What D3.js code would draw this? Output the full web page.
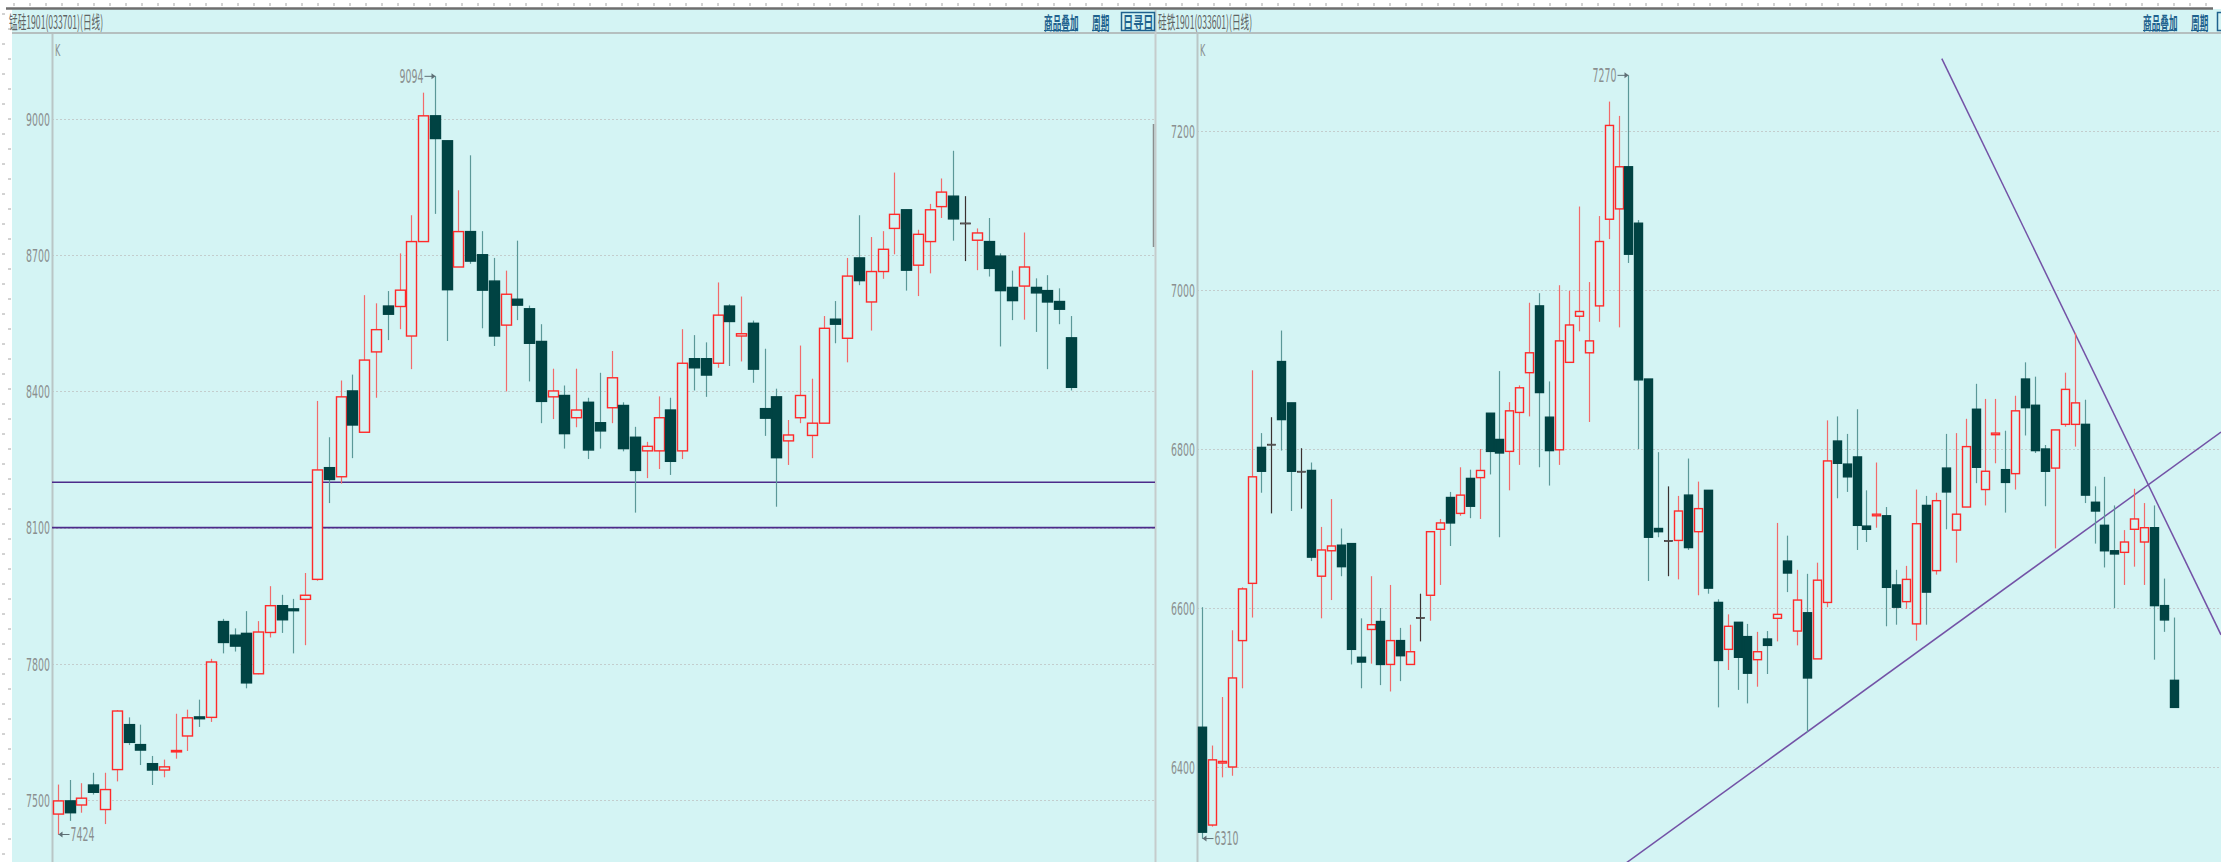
<!DOCTYPE html>
<html>
<head>
<meta charset="utf-8">
<script src="https://cdn.jsdelivr.net/npm/d3@7"></script>
<style>
  body { margin: 0; background: #ffffff; }
  svg { display: block; }
  .tick-label { font-family: "Liberation Sans Narrow", "DejaVu Sans Condensed", sans-serif; fill: #8a8f8f; }
  .hdr { font-family: "Noto Sans CJK SC", sans-serif; }
</style>
</head>
<body>
<div id="chart"></div>
<script>
// ---- data: left panel (锰硅1901), daily OHLC ----
var leftOpen  = [7469,7498,7489,7533,7479,7567,7666,7622,7580,7566,7606,7641,7683,7682,7893,7863,7867,7778,7869,7928,7921,7942,7986,8232,8212,8401,8310,8487,8588,8587,8522,8730,9007,8952,8674,8752,8701,8643,8546,8603,8582,8510,8388,8391,8342,8376,8331,8364,8369,8299,8269,8269,8359,8269,8472,8472,8462,8588,8522,8550,8362,8388,8291,8342,8303,8330,8559,8517,8694,8597,8664,8759,8800,8678,8730,8807,8830,8771,8733,8730,8698,8629,8632,8629,8622,8598,8518];
var leftHigh  = [7534,7544,7537,7560,7560,7698,7682,7666,7597,7589,7690,7699,7721,7811,7899,7878,7916,7894,7971,7952,7943,8000,8379,8299,8424,8437,8612,8594,8621,8704,8788,9058,9094,8952,8843,8920,8753,8694,8666,8732,8589,8548,8450,8413,8450,8386,8441,8489,8376,8322,8289,8389,8386,8537,8524,8508,8640,8592,8609,8556,8494,8406,8337,8501,8428,8566,8599,8694,8788,8740,8753,8882,8800,8756,8813,8869,8930,8830,8759,8782,8704,8666,8750,8649,8656,8627,8566];
var leftLow   = [7424,7454,7472,7512,7447,7541,7621,7577,7533,7550,7591,7608,7661,7672,7823,7827,7746,7777,7858,7868,7823,7841,7983,8154,8197,8253,8310,8386,8513,8537,8449,8730,8791,8511,8674,8681,8539,8500,8400,8557,8422,8330,8339,8274,8321,8251,8274,8330,8268,8133,8209,8229,8216,8251,8402,8388,8452,8456,8466,8419,8302,8146,8238,8330,8253,8330,8506,8464,8634,8534,8648,8702,8622,8610,8660,8782,8732,8687,8667,8653,8499,8557,8558,8531,8449,8548,8402];
var leftClose = [7498,7472,7504,7517,7523,7696,7627,7610,7566,7573,7609,7681,7679,7804,7847,7839,7758,7870,7928,7897,7917,7951,8227,8206,8388,8326,8469,8536,8570,8623,8730,9007,8957,8624,8752,8687,8623,8522,8614,8590,8506,8378,8401,8307,8359,8271,8313,8430,8274,8226,8279,8342,8246,8462,8452,8436,8568,8554,8527,8449,8341,8254,8304,8391,8330,8539,8548,8654,8644,8664,8713,8790,8667,8746,8800,8839,8780,8771,8749,8671,8622,8600,8674,8617,8597,8581,8409];
var leftTicks = [7500, 7800, 8100, 8400, 8700, 9000];
var leftLevels = [8200, 8100];   // horizontal lines drawn by the user

// ---- data: right panel (硅铁1901), daily OHLC ----
var rightOpen  = [6450,6327,6405,6400,6559,6631,6802,6806,6910,6858,6772,6773,6640,6672,6679,6681,6538,6573,6583,6529,6559,6529,6588,6616,6699,6739,6719,6763,6764,6845,6812,6797,6846,6896,6980,6840,6799,6909,6967,6921,6980,7089,7102,7155,7084,6888,6700,6685,6685,6742,6696,6748,6607,6548,6582,6564,6535,6561,6587,6659,6571,6594,6536,6607,6810,6781,6790,6703,6716,6716,6629,6608,6580,6729,6647,6776,6698,6727,6850,6749,6818,6774,6769,6888,6855,6800,6776,6831,6831,6831,6733,6704,6672,6670,6699,6683,6701,6603,6509];
var rightHigh  = [6601,6427,6488,6572,6626,6899,6820,6840,6949,6858,6801,6783,6702,6737,6700,6681,6587,6640,6600,6629,6575,6579,6618,6696,6712,6746,6777,6774,6800,6845,6898,6859,6880,6984,6996,6885,7006,6999,7105,7010,7093,7237,7219,7270,7088,6888,6796,6753,6741,6788,6759,6748,6611,6592,6582,6580,6570,6571,6707,6691,6648,6643,6657,6836,6841,6819,6850,6748,6783,6727,6648,6653,6749,6741,6745,6819,6820,6838,6882,6863,6863,6823,6867,6909,6891,6805,6824,6896,6946,6862,6753,6765,6729,6698,6750,6732,6729,6637,6588];
var rightLow   = [6310,6325,6387,6389,6499,6588,6745,6719,6798,6722,6725,6659,6587,6610,6640,6529,6499,6530,6503,6495,6508,6529,6558,6584,6629,6678,6716,6713,6712,6768,6689,6748,6780,6841,6777,6754,6780,6909,6948,6834,6960,7064,6953,7034,6800,6634,6689,6640,6636,6673,6616,6618,6475,6522,6497,6480,6501,6517,6558,6620,6553,6444,6536,6601,6738,6746,6673,6683,6701,6577,6579,6599,6559,6579,6642,6699,6657,6727,6757,6729,6782,6720,6749,6817,6795,6728,6675,6828,6803,6732,6681,6651,6600,6629,6652,6629,6535,6570,6475];
var rightClose = [6318,6409,6407,6512,6624,6765,6772,6806,6837,6772,6772,6664,6673,6678,6652,6548,6532,6579,6529,6559,6540,6545,6588,6696,6707,6707,6742,6728,6773,6797,6795,6848,6877,6921,6871,6798,6936,6956,6973,6936,7061,7207,7155,7045,6887,6689,6696,6685,6722,6676,6725,6625,6534,6577,6538,6518,6545,6553,6592,6644,6610,6512,6635,6785,6782,6765,6704,6699,6718,6626,6601,6636,6706,6620,6735,6746,6718,6803,6777,6772,6820,6758,6848,6852,6798,6772,6824,6875,6858,6742,6722,6672,6668,6683,6712,6701,6603,6585,6475];
var rightTicks = [6400, 6600, 6800, 7000, 7200];
// trend lines as [bar index, price] pairs
var rightTrendUp   = [[61, 6444], [102.5, 6819]];
var rightTrendDown = [[74.6, 7291], [88, 6946]];

var svgWidth = 2221;
var svgHeight = 862;
var plotTop = 34;

var colors = {
  bg: "#d4f4f4",
  bear: "#004343",
  bearWick: "#5b9898",
  bull: "#ff2a2a",
  bullWick: "#f26a6a",
  doji: "#3b3131",
  grid: "#c3cdcd",
  axis: "#b9c6c6",
  level: "#4c2b8a",
  trend: "#7352a6",
  note: "#2f4160",
  button: "#1f628e"
};

var svg = d3.select("#chart")
  .append("svg")
  .attr("width", svgWidth)
  .attr("height", svgHeight);

// white rulers on top and left, then the cyan panels
svg.append("rect").attr("width", svgWidth).attr("height", svgHeight).attr("fill", "#ffffff");
svg.append("rect").attr("x", 12).attr("y", 9).attr("width", svgWidth - 12).attr("height", svgHeight - 9).attr("fill", colors.bg);

var rulerTop = d3.range(14, svgWidth, 16);
svg.selectAll(".ruler-top").data(rulerTop).enter().append("line")
  .attr("x1", function (d) { return d; }).attr("x2", function (d) { return d; })
  .attr("y1", 3).attr("y2", 6)
  .attr("stroke", "#a6a6a6");
var rulerLeft = d3.range(14, svgHeight, 15);
svg.selectAll(".ruler-left").data(rulerLeft).enter().append("line")
  .attr("x1", function (d, i) { return i % 2 ? 8 : 2; }).attr("x2", function (d, i) { return i % 2 ? 11 : 5; })
  .attr("y1", function (d) { return d; }).attr("y2", function (d) { return d; })
  .attr("stroke", "#a6a6a6");

// header band
svg.append("line").attr("x1", 6).attr("x2", 2213).attr("y1", 8.5).attr("y2", 8.5)
  .attr("stroke", "#6e6e6e").attr("stroke-width", 2.5);
svg.append("line").attr("x1", 12).attr("x2", svgWidth).attr("y1", 33).attr("y2", 33)
  .attr("stroke", "#b5bfbf").attr("stroke-width", 2);
svg.append("line").attr("x1", 1155.5).attr("x2", 1155.5).attr("y1", 10).attr("y2", svgHeight)
  .attr("stroke", "#c5cccc").attr("stroke-width", 2);

function squeezedText(parent, x, y, str, size, sx, fill, anchor, cls) {
  return parent.append("text")
    .attr("class", cls || "tick-label")
    .attr("transform", "translate(" + x + "," + y + ") scale(" + sx + ",1)")
    .attr("text-anchor", anchor || "start")
    .attr("dominant-baseline", "central")
    .attr("font-size", size)
    .attr("fill", fill)
    .text(str);
}

squeezedText(svg, 9, 21, "锰硅1901(033701)(日线)", 18, 0.48, "#5f6464", "start", "hdr");
squeezedText(svg, 1158, 21, "硅铁1901(033601)(日线)", 18, 0.48, "#5f6464", "start", "hdr");

function buttons(x0, items) {
  var x = x0;
  items.forEach(function (t) {
    var w = t.length * 8.5;
    squeezedText(svg, x, 22, t, 18, 0.48, colors.button, "start", "hdr").attr("font-weight", "bold");
    svg.append("line").attr("x1", x).attr("x2", x + w).attr("y1", 30.5).attr("y2", 30.5)
      .attr("stroke", colors.button).attr("stroke-width", 1);
    x += w + 14;
  });
}
buttons(1044, ["商品叠加", "周期"]);
svg.append("rect").attr("x", 1121.5).attr("y", 12.5).attr("width", 33).attr("height", 18)
  .attr("fill", "none").attr("stroke", colors.button).attr("stroke-width", 1.5);
squeezedText(svg, 1123, 22, "日寻日", 17, 0.6, colors.button, "start", "hdr").attr("font-weight", "bold");
buttons(2143, ["商品叠加", "周期"]);
svg.append("rect").attr("x", 2217.5).attr("y", 12.5).attr("width", 10).attr("height", 18)
  .attr("fill", "none").attr("stroke", colors.button).attr("stroke-width", 1.5);

// small gray mark on the right edge of the left panel
svg.append("line").attr("x1", 1153.5).attr("x2", 1153.5).attr("y1", 124).attr("y2", 247)
  .attr("stroke", "#8a8f8f").attr("stroke-width", 1.5);

// ---- one candlestick panel ----
function drawPanel(cfg) {
  var g = svg.append("g");
  var n = cfg.open.length;
  var xScale = d3.scaleLinear().domain(cfg.xDomain).range([cfg.left, cfg.right]);
  var yScale = d3.scaleLinear().domain(cfg.yDomain).range(cfg.yRange);

  var clipId = "clip" + cfg.left;
  svg.append("clipPath").attr("id", clipId).append("rect")
    .attr("x", cfg.left).attr("y", plotTop + 1).attr("width", cfg.right - cfg.left).attr("height", svgHeight - plotTop);

  // grid
  g.selectAll(".grid").data(cfg.ticks).enter().append("line")
    .attr("x1", cfg.left).attr("x2", cfg.right)
    .attr("y1", function (d) { return Math.round(yScale(d)) + 0.5; })
    .attr("y2", function (d) { return Math.round(yScale(d)) + 0.5; })
    .attr("stroke", colors.grid).attr("stroke-dasharray", "2,2");

  // y axis (labels only, d3 axis with no domain path)
  var yAxis = d3.axisLeft(yScale).tickValues(cfg.ticks).tickSize(0).tickFormat(d3.format("d"));
  var axisG = g.append("g").attr("transform", "translate(" + (cfg.left - 2) + ",0)").call(yAxis);
  axisG.select(".domain").remove();
  axisG.selectAll("text")
    .attr("class", "tick-label")
    .attr("font-size", 18)
    .attr("x", 0).attr("dy", "0.35em")
    .attr("transform", "scale(0.58,1)")
    .style("fill", "#8a8f8f");

  g.append("line").attr("x1", cfg.left + 0.5).attr("x2", cfg.left + 0.5).attr("y1", plotTop).attr("y2", svgHeight)
    .attr("stroke", colors.axis).attr("stroke-width", 2);
  squeezedText(g, cfg.left + 3, 51, "K", 15, 0.6, "#8a8f8f", "start");

  var plot = g.append("g").attr("clip-path", "url(#" + clipId + ")");

  // user-drawn horizontal levels
  plot.selectAll(".level").data(cfg.levels || []).enter().append("line")
    .attr("x1", cfg.left).attr("x2", cfg.right)
    .attr("y1", function (d) { return yScale(d); }).attr("y2", function (d) { return yScale(d); })
    .attr("stroke", colors.level).attr("stroke-width", 1.6);

  // trend lines extended to the panel right edge
  (cfg.trends || []).forEach(function (t) {
    var slope = (t[1][1] - t[0][1]) / (t[1][0] - t[0][0]);
    var startIdx = t.start === "edge" ? cfg.xDomain[0] - 60 : t[0][0];
    var endIdx = cfg.xDomain[1];
    plot.append("line")
      .attr("x1", xScale(startIdx)).attr("y1", yScale(t[0][1] + slope * (startIdx - t[0][0])))
      .attr("x2", xScale(endIdx)).attr("y2", yScale(t[0][1] + slope * (endIdx - t[0][0])))
      .attr("stroke", colors.trend).attr("stroke-width", 1.5);
  });

  var bars = d3.range(n).map(function (i) {
    return { i: i, o: cfg.open[i], h: cfg.high[i], l: cfg.low[i], c: cfg.close[i] };
  });
  function kind(d) { return d.c > d.o ? "bull" : (d.c < d.o ? "bear" : "doji"); }

  var cg = plot.selectAll(".candle").data(bars).enter().append("g");
  cg.append("line")
    .attr("x1", function (d) { return Math.round(xScale(d.i)) + 0.5; })
    .attr("x2", function (d) { return Math.round(xScale(d.i)) + 0.5; })
    .attr("y1", function (d) { return yScale(d.h); })
    .attr("y2", function (d) { return yScale(d.l); })
    .attr("stroke", function (d) {
      var k = kind(d);
      return k === "bull" ? colors.bullWick : (k === "bear" ? colors.bearWick : colors.doji);
    })
    .attr("stroke-width", 1.2);

  var bw = cfg.bodyWidth;
  cg.append("rect")
    .attr("x", function (d) { return Math.round(xScale(d.i)) + 0.5 - bw / 2; })
    .attr("width", bw)
    .attr("y", function (d) { return yScale(Math.max(d.o, d.c)); })
    .attr("height", function (d) { return Math.max(1, yScale(Math.min(d.o, d.c)) - yScale(Math.max(d.o, d.c))); })
    .attr("fill", function (d) { return kind(d) === "bear" ? colors.bear : colors.bg; })
    .attr("stroke", function (d) {
      var k = kind(d);
      return k === "bull" ? colors.bull : (k === "bear" ? colors.bear : colors.doji);
    })
    .attr("stroke-width", function (d) { return kind(d) === "doji" ? 0.8 : 1.4; });

  // highest / lowest notes
  var hiIdx = d3.maxIndex(cfg.high), loIdx = d3.minIndex(cfg.low);
  var hx = Math.round(xScale(hiIdx)) + 0.5, hy = yScale(cfg.high[hiIdx]);
  g.append("line").attr("x1", hx - 11).attr("x2", hx).attr("y1", hy).attr("y2", hy)
    .attr("stroke", "#5e6f75").attr("stroke-width", 1);
  g.append("path").attr("d", "M" + hx + "," + hy + "l-4,-3v6z").attr("fill", "#5e6f75");
  squeezedText(g, hx - 12, hy, d3.format("d")(cfg.high[hiIdx]), 19, 0.55, colors.note, "end");

  var lx = Math.round(xScale(loIdx)) + 0.5, ly = yScale(cfg.low[loIdx]);
  g.append("line").attr("x1", lx).attr("x2", lx + 11).attr("y1", ly).attr("y2", ly)
    .attr("stroke", "#5e6f75").attr("stroke-width", 1);
  g.append("path").attr("d", "M" + lx + "," + ly + "l4,-3v6z").attr("fill", "#5e6f75");
  squeezedText(g, lx + 12, ly, d3.format("d")(cfg.low[loIdx]), 19, 0.55, colors.note, "start");
}

drawPanel({
  open: leftOpen, high: leftHigh, low: leftLow, close: leftClose,
  ticks: leftTicks, levels: leftLevels,
  left: 52, right: 1155, xDomain: [-0.5, 93.13],
  yDomain: [7500, 9000], yRange: [800, 119],
  bodyWidth: 10
});

var trendUp = rightTrendUp.slice(); trendUp.start = "edge";
var trendDown = rightTrendDown.slice();
drawPanel({
  open: rightOpen, high: rightHigh, low: rightLow, close: rightClose,
  ticks: rightTicks, trends: [trendUp, trendDown],
  left: 1197, right: 2221, xDomain: [-0.5, 102.75],
  yDomain: [6400, 7200], yRange: [767, 131],
  bodyWidth: 8
});
</script>
</body>
</html>
